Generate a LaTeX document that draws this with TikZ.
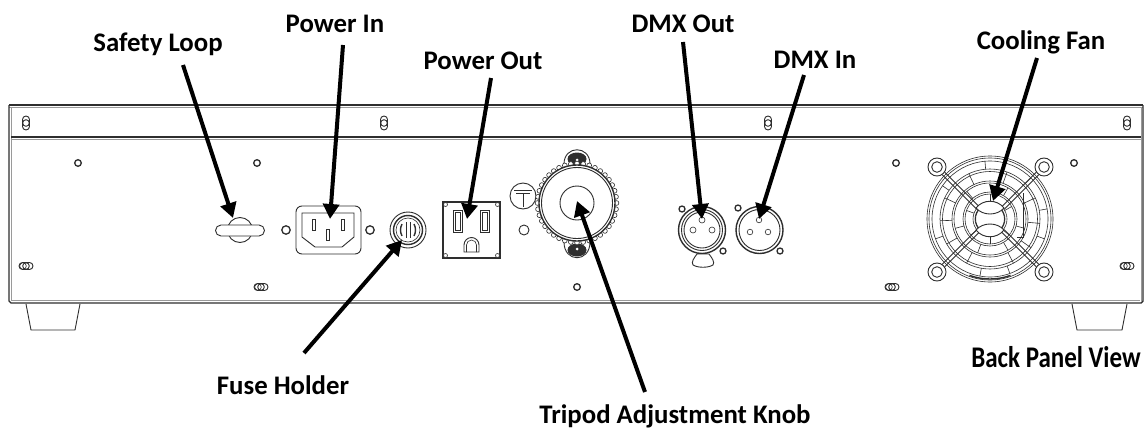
\documentclass[tikz,border=0pt]{standalone}
\usepackage{fontspec}
\setmainfont{Carlito}
\usetikzlibrary{arrows.meta}
\definecolor{ink}{HTML}{2E2E2E}
\definecolor{soft}{HTML}{9A9A9A}
\tikzset{
  line/.style={draw=ink,line width=0.9pt},
  thin line/.style={draw=ink,line width=0.6pt},
  edge line/.style={draw=soft,line width=0.8pt},
  heavy line/.style={draw=ink,line width=1.4pt},
  label/.style={font=\bfseries\fontsize{26.8}{30}\selectfont,text=black,inner sep=0pt},
  big label/.style={font=\bfseries\fontsize{25}{29}\selectfont,text=black,inner sep=0pt},
  pointer/.style={draw=black,line width=4pt,-{Triangle[length=15pt,width=16pt]}},
  hole/.style={draw=ink,line width=1.3pt,fill=white},
}
\newcommand{\vslotmark}[2]{%
  \draw[line,rounded corners=3.5pt] (#1-3.5,#2-7) rectangle (#1+3.5,#2+7);
  \draw[line] (#1,#2) circle (3.3);}
\newcommand{\hslotmark}[2]{%
  \draw[line,rounded corners=3.5pt] (#1-7,#2-3.5) rectangle (#1+7,#2+3.5);
  \draw[line] (#1,#2) circle (3.3);
  \draw[thin line] (#1-3,#2) circle (3.3);}
\begin{document}
\begin{tikzpicture}[x=1pt,y=-1pt]
\useasboundingbox (0,0) rectangle (1146,434);
% feet
\draw[line] (26,304) -- (31,330) -- (75,330) -- (80,304);
\draw[line] (1072,304) -- (1077,330) -- (1122,330) -- (1127,304);
% panel
\draw[fill=white,draw=none] (9,105) rectangle (1143,303);
\draw[heavy line] (9,105) -- (1143,105);
\draw[edge line] (9,107) -- (1143,107);
\draw[heavy line] (9,105) -- (9,301) -- (11,303) -- (1141,303) -- (1143,301) -- (1143,105);
\draw[edge line] (11,107) -- (11,301);
\draw[edge line] (1141,107) -- (1141,301);
\draw[edge line] (12,300.5) -- (1140,300.5);
\draw[heavy line] (11,137) -- (1141,137);
\draw[edge line] (11,139.5) -- (1141,139.5);
% mounting marks
\foreach \p in {26,384,768,1127}{\vslotmark{\p}{123}}
\foreach \p/\q in {26/266,261/287,892/287,1127/266}{\hslotmark{\p}{\q}}
\foreach \p/\q in {78/163,257/163,896/163,1074/163,577/287}{\draw[hole] (\p,\q) circle (3.3);}
% safety loop
\draw[line] (240,230) circle (12.5);
\draw[line,fill=white] (221,225) -- (259,225) arc (-90:90:5.5) -- (221,236) arc (90:270:5.5) -- cycle;
% power in
\draw[line,rounded corners=6pt] (296,206) rectangle (361,254);
\draw[line] (302,213) -- (354,213) -- (354,237) -- (342,247) -- (315,247) -- (302,237) -- cycle;
\foreach \p/\q in {314/225,343/225,328/235}{\draw[thin line] (\p-1.7,\q-5.5) rectangle (\p+1.7,\q+5.5);}
\foreach \p in {286,370}{\draw[hole] (\p,230) circle (4.2);}
% fuse holder
\draw[line] (408,230) circle (18);
\draw[heavy line] (408,230) circle (14.5);
\draw[thin line] (408,230) circle (12);
\draw[heavy line] (402,224) .. controls (400,228) and (400,232) .. (402,236);
\draw[heavy line] (414,224) .. controls (416,228) and (416,232) .. (414,236);
\draw[thin line] (406,222) -- (406,238) (410,222) -- (410,238);
% outlet
\draw[heavy line] (443,202) rectangle (500,258);
\foreach \p/\q in {445.5/204.5,497.5/204.5,445.5/255.5,497.5/255.5}{\draw[thin line,fill=white] (\p,\q) circle (2);}
\foreach \p in {453,480}{\draw[line] (\p,210) rectangle (\p+9.5,232);\draw[thin line] (\p+2,212) rectangle (\p+7.5,230);}
\draw[line] (464,252) -- (464,245) arc (180:360:7.5) -- (479,252) -- cycle;
\draw[thin line] (466.5,252) -- (466.5,245) arc (180:360:5) -- (476.5,252);
% knob
\draw[line] (523,196) circle (13);
\draw[thin line] (514,190) -- (532,190) (516,193.5) -- (530,193.5) (523,193.5) -- (523,207);
\draw[line] (524,230) circle (5);
\draw[line] (564,164) .. controls (564,145) and (590,145) .. (590,164) -- (590,175) -- (564,175) -- cycle;
\draw[line] (564,242) .. controls (564,263) and (590,263) .. (590,242) -- (590,232) -- (564,232) -- cycle;
\fill[ink] (577,159) ellipse (9.5 and 6.5);
\fill[ink] (577,250) ellipse (9.5 and 6.5);
\fill[white] (577,160) circle (1.5);
\fill[white] (577,249) circle (1.5);
\foreach \a in {0,9,...,351}{\draw[thin line,fill=white] (577,203)+(\a:39.5) circle (2.4);}
\draw[heavy line,fill=white] (577,203) circle (38);
\draw[line] (577,203) circle (35.5);
\draw[line] (577,203) circle (17);
% dmx out
\draw[heavy line] (702,230) circle (23.5);
\draw[line] (702,230) circle (20.5);
\draw[line] (702,230) circle (18);
\foreach \p/\q in {702/220,693/230,712/230}{\draw[thin line,fill=white] (\p,\q) circle (3);}
\draw[hole] (682,209) circle (3);
\draw[hole] (723,251) circle (3);
\draw[line,fill=white] (697,254) -- (709,254) .. controls (712,258) and (715,262) .. (713,265) .. controls (708,268) and (698,268) .. (693,265) .. controls (691,262) and (694,258) .. (697,254) -- cycle;
% dmx in
\draw[heavy line] (759.5,230) circle (23.5);
\draw[line] (759.5,230) circle (20.5);
\foreach \p/\q in {759/220,750/232,768/232}{\draw[thin line,fill=white] (\p,\q) circle (2.8);}
\draw[hole] (738,208) circle (3);
\draw[hole] (780,251) circle (3);
% fan
\foreach \r in {63,61,58,50,47.5,38,36,27,25,17,15}{\draw[thin line] (990,219) circle (\r);}
\foreach \a in {5,35,62,118,150,178,205,245,290,335}{\draw[thin line] (990,219)+(\a:38) -- +(\a:50);}
\foreach \a in {20,70,100,160,215,265,315,350}{\draw[thin line] (990,219)+(\a:50) -- +(\a:58);}
\foreach \a in {15,60,110,165,230,300}{\draw[thin line] (990,219)+(\a:27) -- +(\a:36);}
\foreach \a in {40,90,140,200,270,330}{\draw[thin line] (990,219)+(\a:17) -- +(\a:25);}
\draw[heavy line] (990,219)+(70:60) arc (70:110:60);
\draw[line] (1023,193) -- (1023,237) -- (1017,237);
\foreach \cx/\cy/\a in {937/167/-45,1044/167/-135,937/272/45,1044/272/135}{
  \begin{scope}[shift={(\cx,\cy)},rotate=\a]
    \draw[line] (9,-1.7) -- (58,-1.7);
    \draw[line] (9,1.7) -- (58,1.7);
    \fill[white] (0,0) circle (9);
    \draw[line] (0,0) circle (9);
    \draw[line] (0,0) circle (5.3);
  \end{scope}
}
\fill[white] (990,219) circle (13);
\draw[line] (990,219) circle (14.5);
\draw[line,fill=white] (976,208) .. controls (983,199) and (997,199) .. (1004,208) .. controls (997,216) and (983,216) .. (976,208) -- cycle;
\draw[line,fill=white] (976,230) .. controls (983,239) and (997,239) .. (1004,230) .. controls (997,222) and (983,222) .. (976,230) -- cycle;
% labels
\node[label] (lsafety) at (158,44) {Safety Loop};
\node[label] (lpowerin) at (335,24) {Power In};
\node[label] (lpowerout) at (483,61) {Power Out};
\node[label] (ldmxout) at (683,24) {DMX Out};
\node[label] (ldmxin) at (815,60) {DMX In};
\node[label] (lfan) at (1041,42) {Cooling Fan};
\node[label] (lfuse) at (283,385) {Fuse Holder};
\node[label] (lknob) at (675,416) {Tripod Adjustment Knob};
\node[big label] (lview) at (1056,357) {\scalebox{1}[1.2]{Back Panel View}};
% connector ends
\coordinate (s1) at (183,65); \coordinate (t1) at (233,218);
\coordinate (s2) at (343,45); \coordinate (t2) at (330,219);
\coordinate (s3) at (491,78); \coordinate (t3) at (467,219);
\coordinate (s4) at (683,42); \coordinate (t4) at (702,219);
\coordinate (s5) at (804,75); \coordinate (t5) at (759,219);
\coordinate (s6) at (1037,58); \coordinate (t6) at (993,201);
\coordinate (s7) at (304,353); \coordinate (t7) at (402,240);
\coordinate (s8) at (645,392); \coordinate (t8) at (577,201);
\foreach \n in {1,...,8}{\draw[pointer] (s\n) -- (t\n);}
\end{tikzpicture}
\end{document}
